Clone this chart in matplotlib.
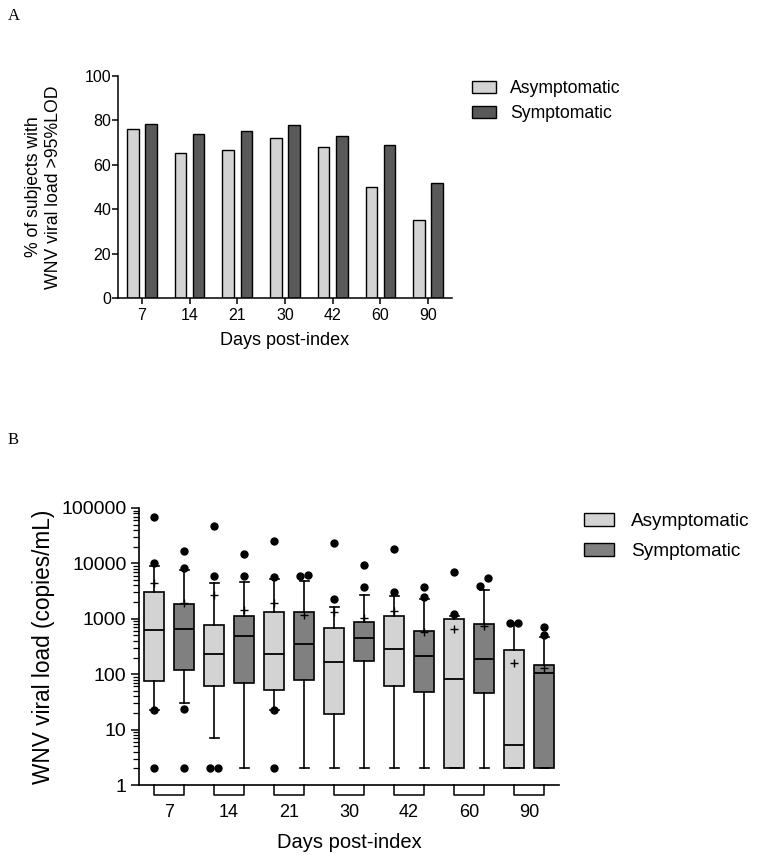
import matplotlib.pyplot as plt
from matplotlib.patches import Patch
import matplotlib.transforms as mtransforms
import numpy as np

plt.rcParams['font.family'] = ['Liberation Sans', 'DejaVu Sans']

# ---- data ----
days = ["7", "14", "21", "30", "42", "60", "90"]
groups = ["Asymptomatic", "Symptomatic"]

# panel A: % of subjects with viral load > 95% LOD
pct_asym = [76, 65.5, 66.7, 72, 68, 50, 35]
pct_sym = [78.5, 74, 75, 78, 73, 69, 52]

# panel B: box summaries (copies/mL), percentile whiskers
# order per day: [whislo, q1, median, q3, whishi, mean]
asym_box = [
    [23, 74, 615, 2990, 9070, 4410],
    [7.2, 61.5, 233, 768, 4410, 2700],
    [23, 51, 236, 1320, 5210, 1890],
    [2, 19.2, 169, 669, 1625, 1300],
    [2, 60, 283, 1133, 2535, 1357],
    [2, 2, 81, 972, 1133, 650],
    [2, 2, 5.3, 268, 835, 162],
]
sym_box = [
    [30, 117, 660, 1866, 7470, 1900],
    [2, 68, 486, 1117, 4540, 1455],
    [2, 77, 348, 1300, 4730, 1164],
    [2, 172, 441, 883, 2678, 1014],
    [2, 48, 209, 607, 2266, 566],
    [2, 45, 187, 801, 3340, 727],
    [2, 2, 106, 147, 473, 132],
]
# points beyond whiskers; an inner list = tied points shown side by side
asym_out = [
    [68000, 10000, 23, 2],
    [48000, 5820, [2, 2]],
    [25700, 5660, 23, 2],
    [23000, 2266],
    [18150, 3075],
    [7070, 1197],
    [[835, 835]],
]
sym_out = [
    [16500, 8240, 24, 2],
    [14960, 5900],
    [[5820, 6130]],
    [9460, 3735],
    [3735, 2460],
    [[3840, 5355]],
    [717, 507],
]

fig = plt.figure(figsize=(7.64, 8.64), dpi=100)
W, H = 764, 864

def ax_rect(l, t, r, b):
    return [l / W, 1 - b / H, (r - l) / W, (b - t) / H]

# ---------------- panel A ----------------
axA = fig.add_axes(ax_rect(118, 76, 452, 298))
x = np.arange(len(days))
light, darkA, darkB = '#d3d3d3', '#595959', '#808080'
axA.bar(x - 0.19, pct_asym, 0.24, color=light, edgecolor='black', linewidth=1)
axA.bar(x + 0.19, pct_sym, 0.24, color=darkA, edgecolor='black', linewidth=1)
axA.set_xlim(-0.5, 6.5)
axA.set_ylim(0, 100)
axA.set_yticks([0, 20, 40, 60, 80, 100])
axA.set_xticks(x)
axA.set_xticklabels(days)
for s in ['top', 'right']:
    axA.spines[s].set_visible(False)
for s in ['left', 'bottom']:
    axA.spines[s].set_linewidth(1.1)
axA.tick_params(axis='y', length=4, width=1.1, pad=1, labelsize=11.5)
axA.tick_params(axis='x', length=4, width=1.1, pad=3, labelsize=11.5)
axA.set_xlabel("Days post-index", fontsize=13, labelpad=7)
axA.set_ylabel("% of subjects with\nWNV viral load >95%LOD", fontsize=12.7, linespacing=1.2)
axA.yaxis.set_label_coords(-0.168, 0.5)
axA.legend(handles=[Patch(facecolor=light, edgecolor='black', label=groups[0]),
                    Patch(facecolor=darkA, edgecolor='black', label=groups[1])],
           loc='upper left', bbox_to_anchor=(472 / W, 1 - 80 / H), bbox_transform=fig.transFigure,
           frameon=False, fontsize=12.7, handlelength=1.36, handleheight=0.68,
           handletextpad=0.8, labelspacing=0.45, borderpad=0, borderaxespad=0)

# ---------------- panel B ----------------
axB = fig.add_axes(ax_rect(139, 508, 559, 785))
axB.set_yscale('log')
axB.set_ylim(1, 100000)
axB.set_xlim(-0.5, 6.5)

def draw_boxes(boxes, outs, offset, color):
    stats = []
    for b in boxes:
        stats.append(dict(whislo=b[0], q1=b[1], med=b[2], q3=b[3], whishi=b[4], mean=b[5], fliers=[]))
    pos = x + offset
    axB.bxp(stats, positions=pos, widths=0.33, capwidths=0.15, patch_artist=True, showmeans=True,
            boxprops=dict(facecolor=color, edgecolor='black', linewidth=1.2),
            medianprops=dict(color='black', linewidth=1.3),
            whiskerprops=dict(color='black', linewidth=1.2),
            capprops=dict(color='black', linewidth=1.2),
            meanprops=dict(marker='+', markeredgecolor='black', markersize=6, markeredgewidth=1))
    for p, pts in zip(pos, outs):
        for v in pts:
            if isinstance(v, list):
                dx = np.linspace(-0.065, 0.065, len(v))
                axB.plot(p + dx, v, 'o', color='black', markersize=5, clip_on=False)
            else:
                axB.plot([p], [v], 'o', color='black', markersize=5, clip_on=False)
    return pos

pa = draw_boxes(asym_box, asym_out, -0.25, light)
ps = draw_boxes(sym_box, sym_out, 0.25, darkB)

# group bracket markers below the axis
trans = mtransforms.blended_transform_factory(axB.transData, axB.transAxes)
dy = -10 / 277
for a, s in zip(pa, ps):
    axB.plot([a, a, s, s], [0, dy, dy, 0], color='black', linewidth=1.1,
             transform=trans, clip_on=False)

axB.set_xticks(x)
axB.set_xticklabels(days)
axB.set_yticks([1, 10, 100, 1000, 10000, 100000])
axB.set_yticklabels(["1", "10", "100", "1000", "10000", "100000"])
for s in ['top', 'right']:
    axB.spines[s].set_visible(False)
for s in ['left', 'bottom']:
    axB.spines[s].set_linewidth(1.2)
axB.tick_params(axis='x', length=0, pad=14, labelsize=13)
axB.tick_params(axis='y', which='major', length=6, width=1.1, pad=3, labelsize=14)
axB.tick_params(axis='y', which='minor', length=4, width=0.9)
axB.set_xlabel("Days post-index", fontsize=14.5, labelpad=8)
axB.set_ylabel("WNV viral load (copies/mL)", fontsize=16.3)
axB.yaxis.set_label_coords(-0.2, 0.5)
axB.legend(handles=[Patch(facecolor=light, edgecolor='black', label=groups[0]),
                    Patch(facecolor=darkB, edgecolor='black', label=groups[1])],
           loc='upper left', bbox_to_anchor=(584 / W, 1 - 513 / H), bbox_transform=fig.transFigure,
           frameon=False, fontsize=13.7, handlelength=1.58, handleheight=0.63,
           handletextpad=0.9, labelspacing=0.7, borderpad=0, borderaxespad=0)

# panel letters
fig.text(8 / W, 1 - 20 / H, "A", fontsize=12, family='Liberation Serif')
fig.text(8 / W, 1 - 444 / H, "B", fontsize=12, family='Liberation Serif')

fig.savefig("out.png", dpi=100)
